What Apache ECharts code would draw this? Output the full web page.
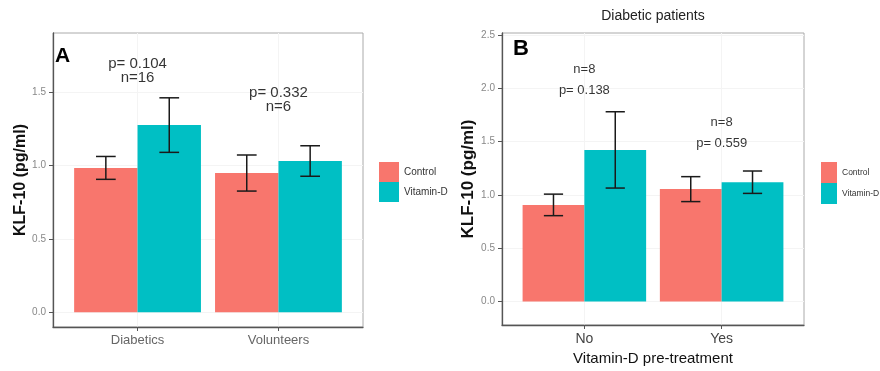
<!DOCTYPE html>
<html>
<head>
<meta charset="utf-8">
<script src="https://cdn.jsdelivr.net/npm/echarts@6/dist/echarts.min.js"></script>
<style>
  html, body { margin: 0; padding: 0; background: #fff; }
  #chart { width: 880px; height: 371px; }
</style>
</head>
<body>
<div id="chart"></div>
<script>
// panel A - all subjects
var groupsA = ["Diabetics", "Volunteers"];
var controlA = [0.985, 0.95];
var controlErrA = [0.078, 0.123];
var vitdA = [1.277, 1.032];
var vitdErrA = [0.186, 0.104];
var notesA = ["p= 0.104\nn=16", "p= 0.332\nn=6"];
var noteHeightA = [1.646, 1.448];
var yTicksA = [0, 0.5, 1, 1.5];

// panel B - diabetic patients
var groupsB = ["No", "Yes"];
var controlB = [0.907, 1.055];
var controlErrB = [0.101, 0.117];
var vitdB = [1.423, 1.12];
var vitdErrB = [0.358, 0.105];
var notesB = ["n=8\np= 0.138", "n=8\np= 0.559"];
var noteHeightB = [2.077, 1.581];
var yTicksB = [0, 0.5, 1, 1.5, 2, 2.5];

var RED = "#F8766D";
var TEAL = "#00BFC4";
var FONT = "Liberation Sans, Arial, sans-serif";

var chart = echarts.init(document.getElementById("chart"));

function barData(vals) {
  return vals.map(function (v, i) { return [i + 1, v]; });
}
function errData(vals, errs) {
  return vals.map(function (v, i) { return [i + 1, v, errs[i]]; });
}

// bars are 45% of the group step, so dodge is +-0.225
function barSeries(name, idx, vals, color) {
  return {
    name: name,
    type: "bar",
    xAxisIndex: idx,
    yAxisIndex: idx,
    barWidth: "45%",
    barGap: "0%",
    itemStyle: { color: color },
    silent: true,
    data: barData(vals)
  };
}

function errSeries(idx, vals, errs, dodge) {
  return {
    type: "custom",
    xAxisIndex: idx,
    yAxisIndex: idx,
    silent: true,
    z: 5,
    encode: { x: 0, y: 1 },
    data: errData(vals, errs),
    renderItem: function (params, api) {
      var x = api.value(0) + dodge;
      var m = api.value(1);
      var e = api.value(2);
      var top = api.coord([x, m + e]);
      var bot = api.coord([x, m - e]);
      var l = api.coord([x - 0.07, m])[0];
      var r = api.coord([x + 0.07, m])[0];
      var st = { stroke: "#1a1a1a", lineWidth: 1.5 };
      return {
        type: "group",
        children: [
          { type: "line", shape: { x1: top[0], y1: top[1], x2: bot[0], y2: bot[1] }, style: st },
          { type: "line", shape: { x1: l, y1: top[1], x2: r, y2: top[1] }, style: st },
          { type: "line", shape: { x1: l, y1: bot[1], x2: r, y2: bot[1] }, style: st }
        ]
      };
    }
  };
}

function noteSeries(idx, notes, heights, fontSize, lineHeight) {
  return {
    type: "scatter",
    xAxisIndex: idx,
    yAxisIndex: idx,
    symbolSize: 0,
    silent: true,
    label: {
      show: true,
      position: "inside",
      formatter: "{b}",
      color: "#000",
      fontSize: fontSize,
      lineHeight: lineHeight,
      fontFamily: FONT
    },
    data: notes.map(function (t, i) { return { name: t, value: [i + 1, heights[i]] }; })
  };
}

function xAxisFor(idx, groups, labelStyle, extra) {
  var ax = {
    type: "value",
    gridIndex: idx,
    min: 0.4,
    max: 2.6,
    axisLine: { show: true, onZero: false, lineStyle: { color: "#555", width: 1.3 } },
    axisTick: { show: true, customValues: [1, 2], length: 4, lineStyle: { color: "#555" } },
    axisLabel: Object.assign({
      customValues: [1, 2],
      margin: 7,
      formatter: function (v) { return groups[Math.round(v) - 1]; }
    }, labelStyle),
    splitLine: { show: true, lineStyle: { color: "#f4f4f4" } }
  };
  return Object.assign(ax, extra || {});
}

function yAxisFor(idx, min, max, ticks, nameGap, nameSize) {
  return {
    type: "value",
    gridIndex: idx,
    min: min,
    max: max,
    name: "KLF-10 (pg/ml)",
    nameLocation: "middle",
    nameGap: nameGap,
    nameTextStyle: { fontWeight: "bold", fontSize: nameSize, color: "#111", fontFamily: FONT },
    axisLine: { show: true, onZero: false, lineStyle: { color: "#555", width: 1.3 } },
    axisTick: { show: true, customValues: ticks, length: 4, lineStyle: { color: "#555" } },
    axisLabel: {
      customValues: ticks,
      margin: 7,
      color: "#888",
      fontSize: 10,
      fontFamily: FONT,
      formatter: function (v) { return v.toFixed(1); }
    },
    splitLine: { show: true, lineStyle: { color: "#f4f4f4" } }
  };
}

var option = {
  animation: false,
  backgroundColor: "#fff",
  grid: [
    { left: 53, top: 33, width: 310, height: 294, show: true, borderColor: "#aaa", borderWidth: 1 },
    { left: 502, top: 33, width: 302, height: 293, show: true, borderColor: "#aaa", borderWidth: 1 }
  ],
  legend: [
    {
      orient: "vertical", left: 379, top: 162, padding: 0, itemGap: 0,
      itemWidth: 20, itemHeight: 20, icon: "rect",
      selectedMode: false,
      textStyle: { fontSize: 10, color: "#333", fontFamily: FONT },
      data: ["Control", "Vitamin-D"]
    },
    {
      orient: "vertical", left: 821, top: 162, padding: 0, itemGap: 0,
      itemWidth: 16, itemHeight: 21, icon: "rect",
      selectedMode: false,
      textStyle: { fontSize: 8.5, color: "#333", fontFamily: FONT, overflow: "none" },
      data: ["Control", "Vitamin-D"]
    }
  ],
  xAxis: [
    xAxisFor(0, groupsA, { color: "#666", fontSize: 13, fontFamily: FONT }),
    xAxisFor(1, groupsB, { color: "#444", fontSize: 14, fontFamily: FONT }, {
      name: "Vitamin-D pre-treatment",
      nameLocation: "middle",
      nameGap: 26,
      nameTextStyle: { fontSize: 15, color: "#111", fontFamily: FONT }
    })
  ],
  yAxis: [
    yAxisFor(0, -0.1, 1.905, yTicksA, 21, 16),
    yAxisFor(1, -0.22, 2.52, yTicksB, 21, 17)
  ],
  graphic: [
    { type: "text", x: 55, y: 56, style: { text: "A", fontSize: 21, fontWeight: "bold", fontFamily: FONT, fill: "#000", verticalAlign: "middle" } },
    { type: "text", x: 513, y: 49, style: { text: "B", fontSize: 22, fontWeight: "bold", fontFamily: FONT, fill: "#000", verticalAlign: "middle" } },
    { type: "text", x: 653, y: 16, style: { text: "Diabetic patients", fontSize: 14, fontFamily: FONT, fill: "#222", align: "center", verticalAlign: "middle" } }
  ],
  series: [
    barSeries("Control", 0, controlA, RED),
    barSeries("Vitamin-D", 0, vitdA, TEAL),
    errSeries(0, controlA, controlErrA, -0.225),
    errSeries(0, vitdA, vitdErrA, 0.225),
    noteSeries(0, notesA, noteHeightA, 15, 14),
    barSeries("Control", 1, controlB, RED),
    barSeries("Vitamin-D", 1, vitdB, TEAL),
    errSeries(1, controlB, controlErrB, -0.225),
    errSeries(1, vitdB, vitdErrB, 0.225),
    noteSeries(1, notesB, noteHeightB, 13, 21)
  ]
};

chart.setOption(option);
</script>
</body>
</html>
